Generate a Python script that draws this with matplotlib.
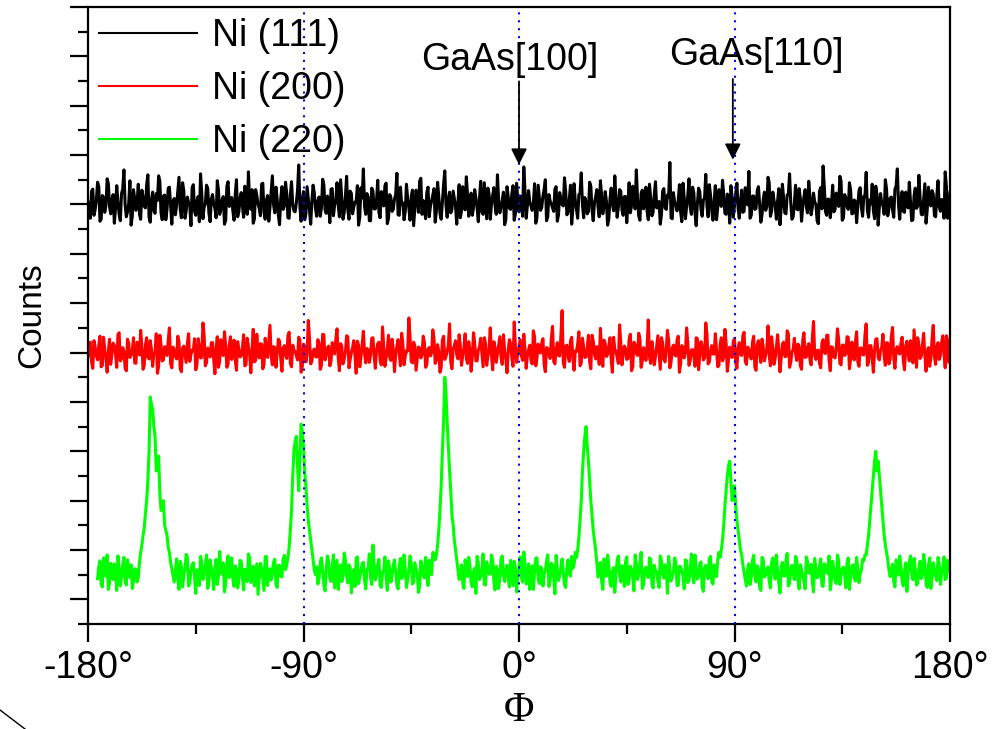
import numpy as np
import matplotlib
matplotlib.use("Agg")
import matplotlib.pyplot as plt
from matplotlib.lines import Line2D
from matplotlib.ticker import MultipleLocator

plt.rcParams['font.family'] = ['Liberation Sans', 'DejaVu Sans']

# Ni (111) trace: values at whole degrees from -180, and at the half degrees between
ni111 = [
    8.05, 7.72, 8.31, 7.9, 8.45, 7.66, 8.18, 7.84, 8.52, 7.95, 8.1, 7.62, 8.38, 7.8, 8.22, 8.7, 7.75, 8.02, 7.58, 8.3,
    7.88, 8.41, 7.7, 8.15, 7.93, 8.6, 7.64, 8.25, 7.82, 8.08, 8.47, 7.69, 8.19, 7.9, 8.35, 7.6, 8.12, 7.98, 8.55, 7.73,
    8.28, 7.86, 8.04, 7.57, 8.4, 7.78, 8.16, 8.62, 7.71, 8.0, 8.33, 7.65, 8.2, 7.92, 8.48, 7.8, 8.09, 7.6, 8.37, 7.96,
    8.14, 7.68, 8.5, 7.85, 8.24, 7.74, 8.06, 8.66, 7.9, 7.62, 8.3, 8.01, 7.77, 8.43, 7.7, 8.18, 7.94, 8.58, 7.83, 8.11,
    7.59, 8.36, 7.97, 8.21, 7.72, 8.46, 7.87, 8.03, 8.8, 7.66, 8.26, 7.81, 8.13, 7.6, 8.39, 7.92, 8.07, 7.76, 8.51, 7.89,
    8.17, 7.63, 8.32, 7.99, 8.44, 7.75, 8.1, 7.84, 8.57, 7.7, 8.22, 7.95, 8.05, 7.58, 8.34, 8.72, 7.8, 8.15, 7.67, 8.27,
    7.91, 8.49, 7.73, 8.02, 8.38, 7.61, 8.2, 7.86, 8.11, 8.63, 7.78, 8.0, 7.69, 8.41, 7.93, 8.16, 7.57, 8.29, 7.84, 8.53,
    8.08, 7.71, 8.35, 7.96, 8.19, 7.64, 8.45, 7.82, 8.04, 8.68, 7.74, 8.25, 7.9, 8.12, 7.6, 8.4, 7.87, 8.01, 8.56, 7.76,
    8.23, 7.94, 8.13, 7.65, 8.47, 7.8, 8.06, 8.33, 7.7, 8.18, 7.98, 8.6, 7.83, 8.09, 7.59, 8.36, 7.92, 8.21, 7.68, 8.43,
    7.85, 8.14, 8.76, 7.72, 8.28, 7.97, 8.03, 7.62, 8.39, 7.88, 8.17, 8.5, 7.75, 8.07, 7.93, 8.31, 7.66, 8.24, 8.0, 8.54,
    7.79, 8.1, 7.6, 8.42, 7.9, 8.2, 8.64, 7.73, 8.05, 7.86, 8.37, 7.67, 8.15, 7.95, 8.48, 7.81, 8.26, 7.58, 8.11, 8.02,
    8.58, 7.74, 8.3, 7.89, 8.16, 7.63, 8.44, 7.98, 8.08, 8.7, 7.77, 8.22, 7.91, 8.35, 7.69, 8.12, 7.84, 8.46, 8.01, 7.6,
    8.27, 7.93, 8.19, 8.85, 7.71, 8.04, 7.87, 8.4, 7.65, 8.13, 7.96, 8.52, 7.8, 8.24, 7.57, 8.33, 7.9, 8.09, 8.61, 7.75,
    8.18, 7.68, 8.38, 7.94, 8.06, 8.49, 7.82, 8.21, 7.62, 8.14, 7.99, 8.43, 7.72, 8.29, 7.86, 8.03, 8.67, 7.78, 8.17, 7.92,
    8.36, 7.64, 8.1, 7.88, 8.55, 7.76, 8.25, 7.97, 8.07, 7.59, 8.41, 7.83, 8.19, 8.62, 7.7, 8.02, 7.91, 8.32, 7.66, 8.15,
    7.95, 8.47, 7.79, 8.23, 8.0, 7.61, 8.34, 8.78, 7.85, 8.11, 7.73, 8.39, 7.9, 8.05, 8.57, 7.68, 8.2, 7.96, 8.44, 7.81,
    8.09, 7.63, 8.28, 7.93, 8.16, 8.65, 7.74, 8.01, 7.87, 8.37, 7.58, 8.22, 7.98, 8.5, 7.77, 8.13, 7.89, 8.31, 8.72, 7.7,
    8.26, 7.84, 8.04, 8.45, 7.67, 8.18, 7.92, 8.59, 7.8, 8.1, 7.62, 8.35, 7.97, 8.21, 7.75, 8.48, 7.86, 8.07, 8.66, 7.72,
    8.24,
]
ni111_mid = [
    7.94, 8.27, 7.78, 8.09, 8.36, 7.7, 8.14, 7.99, 8.42, 7.81, 8.2, 7.93, 8.05, 7.67, 8.31, 8.0, 7.85, 8.48, 7.76, 8.12,
    8.03, 7.8, 8.29, 7.96, 8.4, 7.74, 8.1, 7.88, 8.22, 8.58, 7.83, 8.17, 7.69, 8.33, 7.97, 8.06, 7.79, 8.26, 7.91, 8.44,
    7.72, 8.15, 7.98, 8.34, 7.86, 8.07, 7.65, 8.23, 7.95, 8.39, 7.82, 8.11, 8.01, 7.73, 8.28, 7.9, 8.16, 7.68, 8.46, 8.02,
    7.87, 8.21, 7.75, 8.13, 7.96, 8.37, 7.8, 8.04, 8.3, 7.71, 8.18, 7.92, 8.41, 7.84, 8.08, 7.66, 8.25, 7.99, 8.35, 7.78,
    8.12, 7.9, 8.45, 7.73, 8.19, 8.0, 7.85, 8.28, 7.95, 8.1, 7.69, 8.36, 7.88, 8.06, 8.24, 7.76, 8.15, 7.93, 8.4, 7.82,
    8.02, 8.31, 7.77, 8.09, 7.98, 8.5, 7.7, 8.17, 7.89, 8.27, 7.81, 8.05, 8.38, 7.74, 8.13, 7.96, 8.22, 7.67, 8.33, 7.91,
    8.08, 7.84, 8.26, 7.97, 8.43, 7.72, 8.14, 7.9, 8.2, 7.79, 8.35, 8.03, 7.86, 8.11, 7.68, 8.29, 7.94, 8.18, 8.47, 7.8,
    7.92, 8.24, 7.75, 8.07, 8.32, 7.87, 8.16, 7.7, 8.4, 7.99, 8.1, 7.83, 8.27, 7.96, 8.04, 7.73, 8.36, 7.89, 8.19, 8.01,
    7.78, 8.3, 7.93, 8.12, 7.85, 8.44, 7.71, 8.21, 8.0, 8.34, 7.8, 8.06, 7.95, 8.25, 7.69, 8.15, 7.9, 8.38, 7.82, 8.09,
    8.17, 7.76, 8.28, 7.98, 8.05, 7.88, 8.42, 7.74, 8.13, 7.94, 8.31, 7.67, 8.2, 8.02, 7.86, 8.36, 7.79, 8.11, 7.97, 8.26,
    7.84, 8.39, 7.92, 8.08, 7.72, 8.23, 7.99, 8.14, 7.81, 8.45, 7.89, 8.03, 8.3, 7.75, 8.18, 7.96, 8.07, 7.7, 8.33, 7.87,
    8.1, 7.95, 8.27, 7.78, 8.16, 8.04, 7.83, 8.37, 7.91, 8.12, 7.68, 8.29, 8.0, 7.86, 8.41, 7.77, 8.2, 7.93, 8.06, 7.8,
    8.32, 7.9, 8.15, 7.73, 8.24, 7.98, 8.09, 7.85, 8.43, 7.71, 8.18, 7.94, 8.35, 7.82, 8.02, 8.26, 7.76, 8.13, 7.97, 8.4,
    7.88, 8.07, 7.69, 8.3, 7.96, 8.19, 7.8, 8.11, 8.38, 7.74, 8.22, 7.92, 8.05, 7.84, 8.34, 7.99, 7.72, 8.17, 7.9, 8.28,
    8.01, 7.79, 8.25, 7.95, 8.44, 7.86, 8.08, 7.7, 8.32, 7.93, 8.14, 7.81, 8.21, 8.03, 7.75, 8.39, 7.89, 8.12, 7.97, 8.3,
    7.83, 8.16, 7.94, 8.05, 7.67, 8.27, 7.91, 8.36, 7.78, 8.1, 8.0, 7.85, 8.23, 7.96, 8.47, 7.73, 8.13, 7.9, 8.29, 7.82,
    8.06, 7.98, 8.34, 7.76, 8.18, 7.87, 8.09, 8.41, 7.71, 8.2, 7.95, 8.02, 7.8, 8.31, 7.92, 8.15, 7.74, 8.37, 7.99, 8.11,
    7.86, 8.25, 7.93, 8.07, 7.69, 8.33, 7.97, 8.14, 7.79, 8.42, 7.9, 8.04, 8.28, 7.77, 8.19, 7.95, 8.1, 7.72, 8.36, 7.88,
]

# Ni (200) trace: values at whole degrees from -180, and at the half degrees between
ni200 = [
    4.92, 5.21, 4.68, 5.1, 4.85, 5.33, 4.74, 5.05, 4.6, 5.27, 4.97, 5.14, 4.7, 5.4, 4.88, 5.02, 4.63, 5.19, 4.95, 5.3,
    4.78, 5.08, 5.45, 4.66, 5.16, 4.9, 5.24, 4.72, 5.0, 4.58, 5.35, 4.83, 5.12, 4.94, 5.5, 4.69, 5.06, 4.87, 5.22, 4.61,
    5.13, 4.8, 5.38, 4.96, 5.04, 4.65, 5.28, 4.89, 5.6, 4.73, 5.09, 4.91, 5.2, 4.57, 5.32, 4.82, 5.01, 5.42, 4.7, 5.15,
    4.86, 5.25, 4.64, 5.07, 4.93, 5.36, 4.76, 5.11, 4.59, 5.47, 4.84, 5.03, 5.18, 4.67, 5.29, 4.9, 5.55, 4.75, 5.1, 4.98,
    5.23, 4.62, 5.14, 4.88, 5.41, 4.71, 5.05, 4.94, 5.31, 4.6, 5.17, 4.81, 5.65, 4.77, 5.02, 4.92, 5.26, 4.66, 5.37, 4.85,
    5.09, 4.73, 5.2, 4.97, 5.48, 4.63, 5.12, 4.87, 5.34, 4.69, 5.0, 5.24, 4.58, 5.15, 4.91, 5.43, 4.79, 5.06, 4.95, 5.3,
    4.68, 5.18, 4.84, 5.52, 4.72, 5.08, 4.9, 5.27, 4.61, 5.13, 4.96, 5.39, 4.75, 5.04, 5.7, 4.82, 5.21, 4.64, 5.11, 4.89,
    5.33, 4.7, 5.07, 4.93, 5.46, 4.78, 5.16, 4.6, 5.25, 4.86, 5.01, 5.58, 4.67, 5.14, 4.95, 5.36, 4.74, 5.09, 4.88, 5.22,
    4.62, 5.4, 4.83, 5.05, 5.29, 4.71, 5.19, 4.92, 5.5, 4.65, 5.1, 4.97, 5.32, 4.76, 5.03, 4.59, 5.26, 4.9, 5.62, 4.8,
    5.12, 4.94, 5.37, 4.68, 5.06, 4.85, 5.44, 4.73, 5.17, 4.99, 5.28, 4.61, 5.08, 4.88, 5.53, 4.77, 5.2, 4.93, 5.85, 4.7,
    5.15, 4.82, 5.31, 4.64, 5.02, 5.42, 4.79, 5.11, 4.91, 5.35, 4.67, 5.24, 4.87, 5.04, 5.49, 4.72, 5.18, 4.96, 5.3, 4.6,
    5.07, 4.9, 5.56, 4.75, 5.13, 4.86, 5.27, 4.63, 5.21, 4.98, 5.39, 4.7, 5.1, 4.84, 5.66, 4.78, 5.01, 4.92, 5.34, 4.66,
    5.19, 4.81, 5.45, 4.69, 5.09, 4.95, 5.25, 4.6, 5.14, 4.89, 5.5, 4.74, 5.05, 4.93, 5.3, 4.65, 5.22, 4.85, 5.6, 4.77,
    5.03, 4.97, 5.38, 4.71, 5.16, 4.83, 5.47, 4.62, 5.11, 4.9, 5.28, 4.68, 5.2, 4.94, 5.41, 4.76, 5.06, 4.87, 5.33, 4.64,
    5.24, 4.8, 5.12, 4.96, 5.54, 4.73, 5.08, 4.88, 5.36, 4.61, 5.17, 4.92, 5.44, 4.7, 5.02, 5.29, 4.84, 5.13, 4.66, 5.4,
    4.91, 5.18, 4.75, 5.63, 4.86, 5.05, 4.69, 5.26, 4.98, 5.35, 4.63, 5.1, 4.89, 5.48, 4.78, 5.15, 4.94, 5.32, 4.67, 5.21,
    4.85, 5.42, 4.72, 5.09, 4.95, 5.58, 4.8, 5.14, 4.6, 5.27, 4.9, 5.04, 5.37, 4.74, 5.19, 4.87, 5.51, 4.68, 5.12, 4.97,
    5.31, 4.65, 5.23, 4.83, 5.07, 5.46, 4.7, 5.16, 4.92, 5.39, 4.62, 5.1, 4.88, 5.55, 4.76, 5.2, 4.94, 5.34, 4.69, 5.25,
    5.05,
]
ni200_mid = [
    5.06, 4.8, 5.24, 4.93, 5.15, 4.71, 5.31, 4.88, 5.02, 4.76, 5.19, 4.97, 5.36, 4.83, 5.1, 4.69, 5.27, 4.9, 5.04, 4.79,
    5.21, 4.95, 5.12, 4.74, 5.3, 4.87, 5.07, 4.98, 5.38, 4.72, 5.16, 4.85, 5.03, 5.25, 4.78, 5.11, 4.92, 5.33, 4.68, 5.09,
    4.96, 5.18, 4.82, 5.05, 5.28, 4.75, 5.13, 4.9, 5.35, 4.8, 5.01, 5.2, 4.86, 5.08, 4.7, 5.26, 4.94, 5.14, 4.77, 5.32,
    5.0, 4.84, 5.22, 4.91, 5.1, 4.73, 5.29, 4.97, 5.06, 4.81, 5.37, 4.89, 5.17, 4.76, 5.04, 5.23, 4.93, 5.12, 4.7, 5.27,
    4.88, 5.09, 4.95, 5.34, 4.78, 5.15, 5.02, 4.85, 5.25, 4.72, 5.11, 4.99, 5.3, 4.83, 5.07, 4.91, 5.19, 4.74, 5.36, 4.96,
    5.13, 4.82, 5.05, 5.27, 4.9, 5.18, 4.77, 5.01, 5.32, 4.86, 5.1, 4.94, 5.23, 4.71, 5.15, 4.98, 5.08, 4.8, 5.29, 4.92,
    5.04, 5.21, 4.75, 5.12, 4.89, 5.35, 4.84, 5.06, 4.97, 5.26, 4.73, 5.17, 4.93, 5.03, 5.31, 4.79, 5.14, 4.88, 5.09, 4.96,
    5.2, 4.76, 5.1, 4.99, 5.28, 4.85, 5.02, 4.7, 5.33, 4.92, 5.16, 4.81, 5.07, 5.24, 4.87, 5.13, 4.95, 5.38, 4.78, 5.05,
    4.91, 5.19, 4.83, 5.11, 5.0, 5.3, 4.74, 5.08, 4.96, 5.22, 4.8, 5.14, 4.9, 5.36, 4.86, 5.04, 5.18, 4.72, 5.12, 4.98,
    5.26, 4.84, 5.06, 4.93, 5.15, 4.77, 5.32, 4.89, 5.01, 5.2, 4.75, 5.1, 4.97, 5.28, 4.82, 5.07, 4.94, 5.34, 4.79, 5.13,
    4.95, 5.23, 4.87, 5.03, 5.17, 4.73, 5.29, 4.9, 5.09, 4.81, 5.35, 4.98, 5.12, 4.76, 5.05, 5.25, 4.92, 5.14, 4.85, 5.31,
    5.02, 4.78, 5.2, 4.96, 5.08, 4.88, 5.37, 4.71, 5.16, 4.94, 5.27, 4.83, 5.04, 5.11, 4.91, 5.22, 4.75, 5.13, 4.99, 5.3,
    4.86, 5.07, 5.24, 4.8, 5.15, 4.93, 5.33, 4.77, 5.1, 5.0, 5.19, 4.84, 5.06, 4.72, 5.28, 4.95, 5.12, 4.89, 5.36, 4.81,
    5.14, 4.97, 5.05, 4.74, 5.3, 4.9, 5.18, 4.85, 5.01, 5.23, 4.79, 5.09, 4.96, 5.34, 4.82, 5.11, 4.93, 5.2, 4.7, 5.16,
    4.99, 5.27, 4.83, 5.08, 4.94, 5.32, 4.76, 5.13, 5.03, 4.88, 5.21, 4.92, 5.38, 4.8, 5.06, 4.97, 5.17, 4.73, 5.25, 4.9,
    5.1, 4.86, 5.29, 4.95, 5.04, 4.78, 5.19, 5.0, 5.35, 4.84, 5.12, 4.91, 5.07, 5.26, 4.75, 5.15, 4.98, 5.31, 4.87, 5.02,
    5.22, 4.81, 5.09, 4.96, 5.36, 4.74, 5.14, 4.89, 5.05, 5.28, 4.85, 5.11, 4.93, 5.2, 4.77, 5.33, 4.9, 5.06, 4.99, 5.18,
    4.83, 5.13, 4.97, 5.24, 4.79, 5.08, 5.3, 4.88, 5.16, 4.94, 5.03, 4.72, 5.27, 4.91, 5.12, 4.86, 5.21, 4.98, 5.34, 4.8,
]

# Ni (220) trace, pieces given as (first phi, values one degree apart)
ni220_parts = [
    (-176, [0.42, 0.78, 0.25, 0.61, 0.9, 0.33, 0.55, 0.72, 0.18, 0.64, 0.47, 0.85, 0.29, 0.58, 0.7, 0.38]),
    (-160, [0.6, 0.45, 0.95, 1.3, 1.75, 2.4, 4.1, 3.85, 3.3, 2.7, 2.15, 1.9, 1.5, 1.3, 0.95, 0.62]),
    (-144, [0.35, 0.82, 0.2, 0.66, 0.48, 0.91, 0.27, 0.59, 0.74, 0.12, 0.53, 0.87, 0.4, 0.69, 0.22, 0.8,
            0.46, 0.63, 0.3, 0.97, 0.51, 0.15, 0.71, 0.44, 0.84, 0.26, 0.6, 0.38, 0.77, 0.19, 0.56, 0.92,
            0.34, 0.67, 0.49, 0.1, 0.73, 0.41, 0.86, 0.28, 0.62, 0.52, 0.81, 0.24, 0.68, 0.45, 0.89]),
    (-97, [0.7, 1.05, 1.8, 3.0, 3.3, 2.2, 3.55, 3.1, 2.3, 1.6, 1.2, 0.8]),
    (-85, [0.5, 0.31, 0.76, 0.58, 0.17, 0.88, 0.43, 0.65, 0.23, 0.79, 0.54, 0.36, 0.94, 0.47, 0.7, 0.13,
           0.6, 0.83, 0.32, 0.57, 0.75, 0.21, 0.64, 0.45, 1.1, 0.39, 0.71, 0.27, 0.55, 0.86, 0.18, 0.62,
           0.49, 0.8, 0.3, 0.68, 0.42, 0.9, 0.24, 0.58, 0.73, 0.35, 0.63, 0.14, 0.78, 0.5, 0.85, 0.28, 0.66, 0.95]),
    (-35, [0.8, 1.1, 1.8, 3.0, 4.5, 3.6, 2.6, 1.7, 1.2, 0.8]),
    (-25, [0.4, 0.7, 0.22, 0.61, 0.85, 0.33, 0.56, 0.12, 0.74, 0.47, 0.92, 0.29, 0.64, 0.51, 0.8, 0.19,
           0.59, 0.43, 0.88, 0.36, 0.69, 0.25, 0.53, 0.77, 0.15, 0.62, 0.46, 0.96, 0.31, 0.72, 0.55, 0.2,
           0.83, 0.41, 0.66, 0.27, 0.58, 0.9, 0.37, 0.7, 0.11, 0.6, 0.48, 0.82, 0.3, 0.65, 0.52, 0.87, 0.7]),
    (24, [0.85, 1.25, 2.0, 3.0, 3.5, 2.8, 2.0, 1.4, 1.0]),
    (33, [0.45, 0.75, 0.2, 0.63, 0.9, 0.34, 0.57, 0.14, 0.79, 0.49, 0.68, 0.26, 0.86, 0.4, 0.6, 0.17,
          0.73, 0.52, 0.95, 0.3, 0.65, 0.44, 0.81, 0.23, 0.58, 0.37, 0.88, 0.5, 0.7, 0.12, 0.62, 0.46,
          0.84, 0.28, 0.67, 0.55, 0.21, 0.78, 0.39, 0.92, 0.33, 0.6, 0.48, 0.76, 0.16, 0.69, 0.42, 0.87, 0.31, 0.64, 0.8]),
    (84, [0.85, 1.2, 1.9, 2.5, 2.8, 2.0, 2.3, 1.6, 1.2, 0.9]),
    (94, [0.55, 0.27, 0.72, 0.44, 0.89, 0.35, 0.61, 0.18, 0.8, 0.5, 0.66, 0.23, 0.84, 0.41, 0.58, 0.13,
          0.75, 0.47, 0.93, 0.32, 0.69, 0.4, 0.79, 0.21, 0.6, 0.36, 0.86, 0.53, 0.71, 0.15, 0.64, 0.45,
          0.82, 0.26, 0.7, 0.52, 0.19, 0.77, 0.38, 0.9, 0.3, 0.62, 0.49, 0.74, 0.2, 0.67, 0.43, 0.85, 0.34, 0.59, 0.78]),
    (145, [0.9, 1.3, 1.9, 2.5, 3.0, 2.8, 2.2, 1.6, 1.1, 0.8]),
    (155, [0.46, 0.71, 0.25, 0.63, 0.88, 0.37, 0.56, 0.16, 0.76, 0.5, 0.83, 0.29, 0.6, 0.42, 0.91, 0.33,
           0.68, 0.22, 0.74, 0.48, 0.85, 0.3, 0.65, 0.4, 0.79, 0.55]),
]
# the half-degree points of Ni (220)
ni220_mid_parts = [
    (-175.5, [0.66, 0.31, 0.84, 0.47, 0.2, 0.73, 0.4, 0.58, 0.88, 0.27, 0.69, 0.36, 0.8, 0.44, 0.22, 0.62]),
    (-159.5, [0.35, 0.75, 1.1, 1.45, 2.0, 3.0, 3.95, 3.5, 2.6, 2.9, 1.8, 2.0, 1.4, 1.05, 0.75, 0.5]),
    (-143.5, [0.58, 0.4, 0.77, 0.25, 0.63, 0.85, 0.33, 0.7, 0.45, 0.6, 0.28, 0.76, 0.52, 0.9, 0.37, 0.65,
              0.2, 0.81, 0.48, 0.57, 0.74, 0.32, 0.88, 0.55, 0.41, 0.68, 0.23, 0.79, 0.46, 0.61, 0.36, 0.83,
              0.5, 0.27, 0.72, 0.43, 0.64, 0.18, 0.87, 0.54, 0.39, 0.75, 0.3, 0.69, 0.47, 0.82, 0.6]),
    (-96.5, [0.85, 1.4, 2.5, 3.2, 2.7, 2.9, 3.4, 2.6, 1.9, 1.4, 1.0, 0.6]),
    (-84.5, [0.66, 0.42, 0.84, 0.29, 0.61, 0.75, 0.36, 0.9, 0.52, 0.2, 0.7, 0.47, 0.8, 0.33, 0.64, 0.55,
             0.26, 0.86, 0.44, 0.72, 0.38, 0.6, 0.92, 0.3, 0.67, 0.5, 0.81, 0.24, 0.59, 0.45, 0.78, 0.35,
             0.69, 0.56, 0.21, 0.83, 0.48, 0.62, 0.4, 0.88, 0.31, 0.74, 0.53, 0.27, 0.68, 0.43, 0.6, 0.79, 0.5, 0.9]),
    (-34.5, [0.9, 1.4, 2.3, 3.6, 4.2, 3.1, 2.2, 1.5, 1.0, 0.6]),
    (-24.5, [0.55, 0.33, 0.8, 0.46, 0.7, 0.25, 0.63, 0.87, 0.4, 0.58, 0.3, 0.76, 0.51, 0.9, 0.36, 0.67,
             0.22, 0.82, 0.48, 0.6, 0.42, 0.79, 0.28, 0.65, 0.54, 0.86, 0.35, 0.71, 0.45, 0.2, 0.68, 0.57,
             0.84, 0.32, 0.62, 0.5, 0.77, 0.26, 0.73, 0.44, 0.89, 0.38, 0.66, 0.53, 0.24, 0.8, 0.47, 0.63, 0.95]),
    (24.5, [1.0, 1.6, 2.6, 3.3, 3.1, 2.4, 1.7, 1.2, 0.75]),
    (33.5, [0.6, 0.38, 0.82, 0.47, 0.7, 0.26, 0.64, 0.53, 0.88, 0.35, 0.59, 0.76, 0.3, 0.67, 0.45, 0.9,
            0.4, 0.72, 0.22, 0.61, 0.5, 0.84, 0.33, 0.69, 0.56, 0.24, 0.78, 0.43, 0.63, 0.87, 0.37, 0.55,
            0.74, 0.28, 0.66, 0.48, 0.8, 0.34, 0.6, 0.52, 0.9, 0.41, 0.71, 0.25, 0.64, 0.57, 0.83, 0.36, 0.7, 0.46, 0.95]),
    (84.5, [1.0, 1.5, 2.2, 2.7, 2.4, 2.1, 1.9, 1.4, 1.0, 0.7]),
    (94.5, [0.4, 0.62, 0.3, 0.78, 0.5, 0.68, 0.24, 0.85, 0.45, 0.6, 0.36, 0.74, 0.55, 0.9, 0.33, 0.66,
            0.48, 0.8, 0.27, 0.63, 0.52, 0.87, 0.39, 0.7, 0.46, 0.21, 0.76, 0.58, 0.35, 0.83, 0.44, 0.67,
            0.29, 0.72, 0.56, 0.88, 0.41, 0.61, 0.32, 0.79, 0.5, 0.65, 0.23, 0.84, 0.47, 0.7, 0.37, 0.6, 0.53, 0.81, 0.9]),
    (145.5, [1.1, 1.6, 2.2, 2.8, 2.6, 2.5, 1.9, 1.3, 0.95, 0.6]),
    (155.5, [0.58, 0.36, 0.8, 0.49, 0.67, 0.27, 0.74, 0.55, 0.88, 0.4, 0.62, 0.32, 0.77, 0.5, 0.7, 0.24,
             0.84, 0.45, 0.6, 0.38, 0.73, 0.52, 0.86, 0.43, 0.66]),
]

xticks = [-180, -90, 0, 90, 180]
xtick_labels = ['-180°', '-90°', '0°', '90°', '180°']
ref_lines = [-90, 0, 90]


def merge(pairs):
    phi = np.concatenate([start + np.arange(len(v)) for start, v in pairs])
    val = np.concatenate([v for start, v in pairs])
    order = np.argsort(phi, kind='stable')
    return phi[order], val[order]


phi_111, y_111 = merge([(-180, ni111), (-179.5, ni111_mid)])
phi_200, y_200 = merge([(-180, ni200), (-179.5, ni200_mid)])
phi_220, y_220 = merge(ni220_parts + ni220_mid_parts)

fig = plt.figure(figsize=(10.07, 7.29), dpi=100)
ax = fig.add_axes([88 / 1007, 1 - 624 / 729, 862 / 1007, 617 / 729])

ax.plot(phi_111, y_111, color='black', lw=2.2, label='Ni (111)')
ax.plot(phi_200, y_200, color='red', lw=2.2, label='Ni (200)')
ax.plot(phi_220, y_220, color='#00ff00', lw=2.2, label='Ni (220)')

for xv in ref_lines:
    ax.axvline(xv, color='blue', lw=1.5, ls=(0, (1.0, 2.8)), zorder=3)

ax.annotate('', xy=(0, 8.75), xytext=(0, 10.55),
            arrowprops=dict(arrowstyle='-|>', color='black', lw=1.3, mutation_scale=24))
ax.annotate('', xy=(89.3, 8.85), xytext=(89.3, 10.6),
            arrowprops=dict(arrowstyle='-|>', color='black', lw=1.3, mutation_scale=24))
ax.text(-4, 10.93, 'GaAs[100]', fontsize=27, ha='center', va='center')
ax.text(99, 11.02, 'GaAs[110]', fontsize=27, ha='center', va='center')

ax.set_xlim(-180, 180)
ax.set_ylim(-0.5, 12)
ax.set_xticks(xticks)
ax.set_xticklabels(xtick_labels)
ax.xaxis.set_minor_locator(MultipleLocator(45))
ax.yaxis.set_major_locator(MultipleLocator(1))
ax.yaxis.set_minor_locator(MultipleLocator(0.5))
ax.set_yticklabels([])
ax.tick_params(which='major', length=13, width=1.6, direction='out', labelsize=27, pad=6)
ax.tick_params(which='minor', length=7, width=1.6, direction='out')
for sp in ax.spines.values():
    sp.set_linewidth(1.6)

ax.set_ylabel('Counts', fontsize=24, labelpad=10)
ax.set_xlabel('Φ', fontsize=30, family=['Liberation Serif', 'DejaVu Serif'], labelpad=4)

leg = ax.legend(loc='upper left', fontsize=27, frameon=False, handlelength=2.6,
                handletextpad=0.4, labelspacing=0.45, borderaxespad=0.25, borderpad=0.05)
for h in leg.get_lines():
    h.set_linewidth(1.5)

fig.add_artist(Line2D([0, 25 / 1007], [1 - 710 / 729, 0], transform=fig.transFigure,
                      color='black', lw=1))

fig.savefig('out.png', dpi=100)
